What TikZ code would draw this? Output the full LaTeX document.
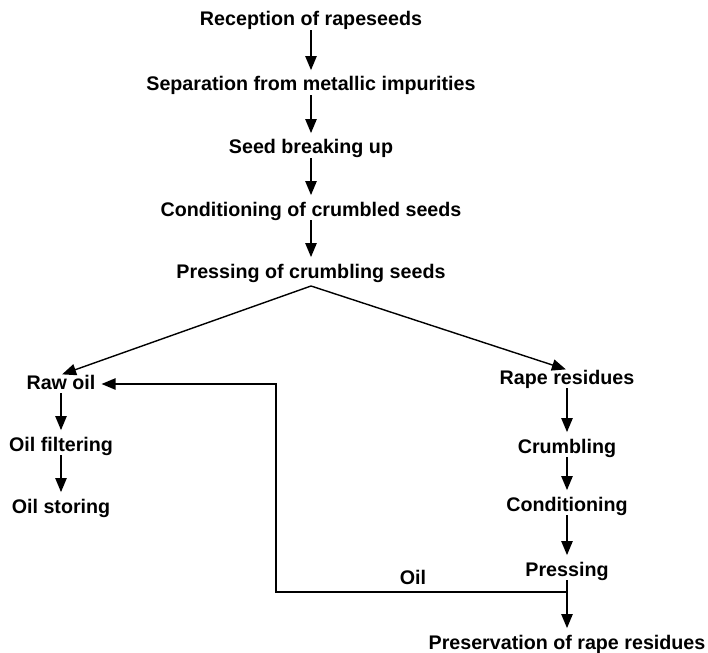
\documentclass[tikz,border=0pt]{standalone}
\usepackage{fontspec}
\setmainfont{Liberation Sans}
\usetikzlibrary{arrows.meta}
\tikzset{lab/.style={font=\bfseries\fontsize{16.8}{19}\selectfont,inner sep=0pt,text height=0.42cm,text depth=0.12cm},
  arr/.style={line width=1.2pt,-{Triangle[length=0.42cm,width=0.34cm]},shorten >=0.2cm},
  feed/.style={line width=1.2pt,-{Triangle[length=0.42cm,width=0.34cm]}}}
\begin{document}
\begin{tikzpicture}[x=0.03cm,y=-0.03cm]
\useasboundingbox (0,0) rectangle (708,653);
% main line
\node[lab] (recep) at (311,21) {Reception of rapeseeds};
\node[lab] (separ) at (311,86) {Separation from metallic impurities};
\node[lab] (break) at (311,149) {Seed breaking up};
\node[lab] (condi) at (311,211) {Conditioning of crumbled seeds};
\node[lab] (press) at (311,273) {Pressing of crumbling seeds};
\coordinate (apex) at (311,286);
\draw[arr] (recep) -- (separ);
\draw[arr] (separ) -- (break);
\draw[arr] (break) -- (condi);
\draw[arr] (condi) -- (press);
% oil branch
\node[lab] (rawoil) at (61,384) {Raw oil};
\node[lab] (filter) at (61,446) {Oil filtering};
\node[lab] (store) at (61,508) {Oil storing};
\draw[arr] (rawoil) -- (filter);
\draw[arr] (filter) -- (store);
% residue branch
\node[lab] (resid) at (567,379) {Rape residues};
\node[lab] (crumb) at (567,448) {Crumbling};
\node[lab] (condr) at (567,506) {Conditioning};
\node[lab] (pressr) at (567,571) {Pressing};
\node[lab] (preserv) at (567,644) {Preservation of rape residues};
\draw[arr] (resid) -- (crumb);
\draw[arr] (crumb) -- (condr);
\draw[arr] (condr) -- (pressr);
\draw[arr] (pressr) -- (preserv);
\draw[feed,shorten >=1pt] (apex) -- (rawoil.north);
\draw[feed,shorten >=1pt] (apex) -- (resid.north);
% oil back to raw oil
\coordinate (junc) at (567,592);
\coordinate (bend) at (276,592);
\draw[feed,shorten >=5pt] (junc) -- (bend) |- (rawoil.east);
\node[lab] (oil) at (413,579) {Oil};
\end{tikzpicture}
\end{document}
